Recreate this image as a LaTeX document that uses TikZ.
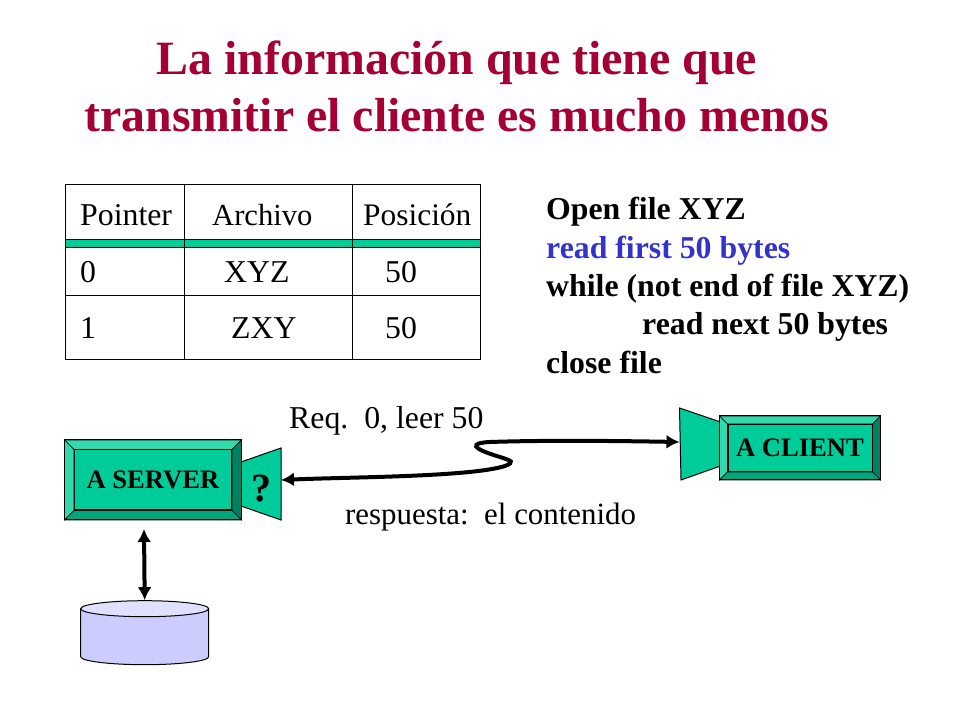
\documentclass[tikz,border=0pt]{standalone}
\usepackage{fontspec}
\setmainfont{Liberation Serif}
\usetikzlibrary{arrows.meta,shapes.geometric}
\definecolor{titlered}{HTML}{A50034}
\definecolor{boxgreen}{HTML}{00CC99}
\definecolor{bevellight}{HTML}{33D9AD}
\definecolor{beveldark}{HTML}{008060}
\definecolor{bevelmid}{HTML}{00A67C}
\definecolor{codeblue}{HTML}{3333CC}
\definecolor{diskblue}{HTML}{CCCCFF}
\definecolor{disktop}{HTML}{E0E0FF}
\tikzstyle{title}=[anchor=base,font=\fontsize{47.8}{48}\selectfont\bfseries,text=titlered,inner sep=0pt]
\tikzstyle{cell}=[anchor=base west,font=\fontsize{31.8}{32}\selectfont,inner sep=0pt]
\tikzstyle{code}=[anchor=base west,font=\fontsize{31.8}{32}\selectfont\bfseries,inner sep=0pt]
\tikzstyle{outerbox}=[rectangle,draw,line width=1pt,fill=boxgreen,inner sep=0pt]
\tikzstyle{innerbox}=[rectangle,draw,line width=1pt,fill=boxgreen,inner sep=0pt,font=\fontsize{26.6}{27}\selectfont\bfseries]
\tikzstyle{bevel}=[draw,line width=.6pt]
\tikzstyle{horn}=[draw,line width=1pt,fill=boxgreen]
\tikzstyle{link}=[line width=4pt,{Latex[length=13pt,width=14pt]}-{Latex[length=13pt,width=14pt]}]
\newcommand{\BevelBox}[7]{% name, x, y, outer w, outer h, inset, text
  \node[outerbox,minimum width=#4pt,minimum height=#5pt] (#1) at (#2,#3) {};
  \node[innerbox,minimum width={(#4-2*#6)*1pt},minimum height={(#5-2*#6)*1pt}] (#1text) at (#2,#3) {#7};
  \path[bevel,fill=bevellight] (#1.north west) -- (#1.north east) -- (#1text.north east) -- (#1text.north west) -- cycle;
  \path[bevel,fill=bevellight] (#1.north west) -- (#1.south west) -- (#1text.south west) -- (#1text.north west) -- cycle;
  \path[bevel,fill=beveldark] (#1.north east) -- (#1.south east) -- (#1text.south east) -- (#1text.north east) -- cycle;
  \path[bevel,fill=bevelmid] (#1.south west) -- (#1.south east) -- (#1text.south east) -- (#1text.south west) -- cycle;
  \draw[line width=1pt] (#1.north west) rectangle (#1.south east);
}
\begin{document}
\begin{tikzpicture}[x=1pt,y=1pt]
  \useasboundingbox (0,0) rectangle (960,720);
  % title
  \node[title] (title1) at (457,645.5) {La información que tiene que};
  \node[title] (title2) at (457,588) {transmitir el cliente es mucho menos};
  % table
  \fill[boxgreen] (65,472) rectangle (480,480);
  \draw[line width=1pt] (65,360) rectangle (480,535);
  \draw[line width=1pt] (184,360) -- (184,535) (352,360) -- (352,535);
  \draw[line width=1pt] (65,480) -- (480,480) (65,472) -- (480,472) (65,424) -- (480,424);
  \node[cell] (head1) at (80,494) {Pointer};
  \node[cell,font=\fontsize{30.6}{32}\selectfont] (head2) at (212,494) {Archivo};
  \node[cell,font=\fontsize{31.4}{32}\selectfont] (head3) at (363,494) {Posición};
  \node[cell] (zero) at (80,437) {0};
  \node[cell] (xyz) at (224,437) {XYZ};
  \node[cell] (fifty1) at (385,437) {50};
  \node[cell] (one) at (80,381) {1};
  \node[cell] (zxy) at (231,381) {ZXY};
  \node[cell] (fifty2) at (385,381) {50};
  % code
  \node[code] (open) at (546,500) {Open file XYZ};
  \node[code,text=codeblue] (first) at (546,461) {read first 50 bytes};
  \node[code] (while) at (546,423) {while (not end of file XYZ)};
  \node[code] (next) at (642,385) {read next 50 bytes};
  \node[code] (close) at (546,346) {close file};
  % server and client
  \draw[horn] (241,258) -- (281,272) -- (281,200) -- (241,214) -- cycle;
  \draw[horn] (720.5,298) -- (679.5,312) -- (681,240) -- (720.5,254) -- cycle;
  \BevelBox{server}{153}{240}{176}{79}{9.5}{A SERVER}
  \BevelBox{client}{800}{272}{160}{63}{8}{A CLIENT}
  \node[font=\fontsize{40}{40}\selectfont\bfseries,inner sep=0pt] (what) at (261,231) {?};
  \coordinate (servermouth) at (281,240);
  \coordinate (clientmouth) at (679.5,278);
  % disk
  \draw[line width=1pt,fill=diskblue] (80.7,111.3) -- (80.7,63.3) arc[start angle=180,end angle=360,x radius=64,y radius=8] -- (208.7,111.3);
  \node[ellipse,draw,line width=1pt,fill=disktop,minimum width=128pt,minimum height=16pt,inner sep=0pt] (disk) at (144.7,111.3) {};
  \coordinate (servertop) at (144,191);
  \draw[link] (servertop) -- (disk.north);
  % link
  \draw[link] (servermouth) .. controls (350,243) and (470,243) .. (505,254)
    .. controls (515,258) and (512,259) .. (500,263)
    .. controls (470,272) and (470,277) .. (490,278)
    .. controls (550,280) and (620,279) .. (clientmouth);
  \node[cell] (req) at (289,291) {Req.\ \ 0, leer 50};
  \node[cell,font=\fontsize{30.9}{32}\selectfont] (resp) at (345,195) {respuesta:\ \ el contenido};
\end{tikzpicture}
\end{document}
